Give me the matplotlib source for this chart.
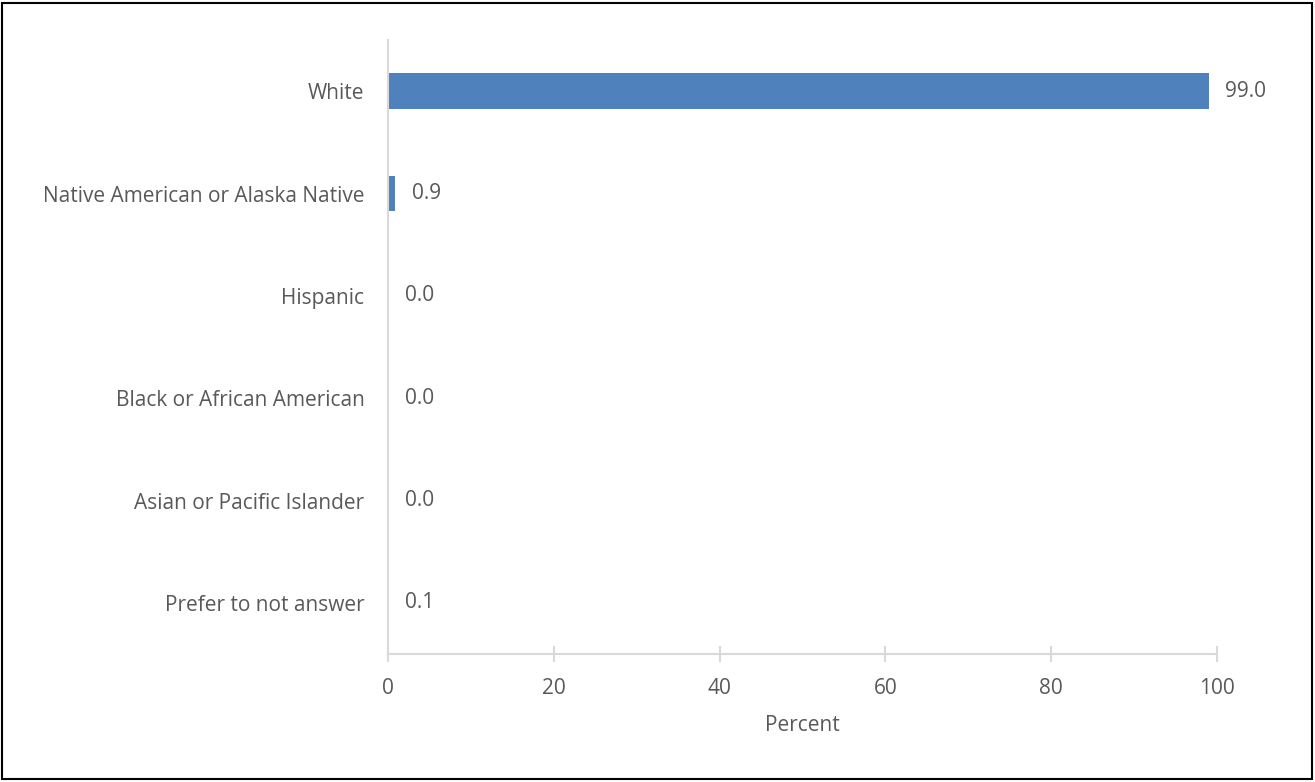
import matplotlib.pyplot as plt
from matplotlib.patches import Rectangle

# Data
categories = ['White', 'Native American or Alaska Native', 'Hispanic',
              'Black or African American', 'Asian or Pacific Islander',
              'Prefer to not answer']
percent = [99.0, 0.9, 0.0, 0.0, 0.0, 0.1]
x_ticks = [0, 20, 40, 60, 80, 100]

text_color = '#595959'
grid_color = '#D9D9D9'
bar_color = '#4F81BD'
fs = 15

plt.rcParams['font.family'] = ['Open Sans', 'DejaVu Sans']

fig = plt.figure(figsize=(13.15, 7.82), dpi=100)
ax = fig.add_axes([388 / 1315, 1 - 654 / 782, (1217 - 388) / 1315, (654 - 40) / 782])

y = list(range(len(categories)))
ax.barh(y, percent, height=0.35, color=bar_color)

# value labels
for yi, v in zip(y, percent):
    ax.annotate(f'{v:.1f}', xy=(v, yi), xytext=(12, 0), textcoords='offset points',
                ha='left', va='center', fontsize=fs, color=text_color)

ax.set_ylim(len(categories) - 0.5, -0.5)
ax.set_xlim(0, 100)
ax.set_yticks(y)
ax.set_yticklabels(categories)
ax.set_xticks(x_ticks)
ax.set_xlabel('Percent', fontsize=fs, color=text_color, labelpad=12)

for s in ['top', 'right']:
    ax.spines[s].set_visible(False)
for s in ['left', 'bottom']:
    ax.spines[s].set_color(grid_color)
    ax.spines[s].set_linewidth(1.5)

ax.tick_params(axis='y', length=0, pad=17, labelsize=fs, labelcolor=text_color)
ax.tick_params(axis='x', direction='inout', length=12, width=1.5, color=grid_color,
               pad=11, labelsize=fs, labelcolor=text_color)

# outer border
fig.patches.append(Rectangle((2 / 1315, 3 / 782), 1310 / 1315, 776 / 782,
                             transform=fig.transFigure, fill=False,
                             edgecolor='black', linewidth=1.5))

fig.savefig('out.png', dpi=100)
